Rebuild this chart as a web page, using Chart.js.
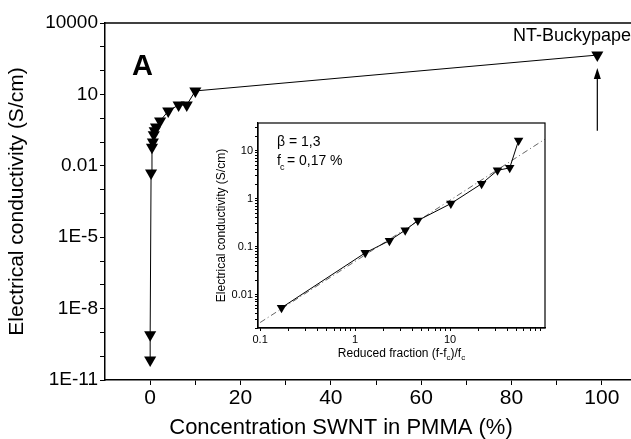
<!DOCTYPE html>
<html>
<head>
<meta charset="utf-8">
<script src="https://cdn.jsdelivr.net/npm/chart.js@4"></script>
<style>
  html, body { margin: 0; padding: 0; background: #fff; overflow: hidden; }
  #wrap { position: relative; width: 631px; height: 439px; overflow: hidden; }
  #main { position: absolute; left: 0; top: 0; }
  #inset { position: absolute; left: 205px; top: 110px; }
</style>
</head>
<body>
<div id="wrap">
  <canvas id="main" width="660" height="439"></canvas>
  <canvas id="inset" width="355" height="255"></canvas>
</div>
<script>
// main panel: conductivity vs SWNT concentration
const concentration = [0, 0, 0.2, 0.4, 0.6, 0.8, 1.0, 1.3, 2.2, 4.0, 6.3, 8.1, 10, 99];
const conductivity = [7e-11, 8e-10, 5e-3, 0.06, 0.1, 0.2, 0.3, 0.43, 0.76, 2.0, 3.6, 3.6, 14, 450];
const xTickValues = [0, 10, 20, 30, 40, 50, 60, 70, 80, 90, 100, 110];
const xTickLabels = ['0', '', '20', '', '40', '', '60', '', '80', '', '100', ''];
const yTickLabels = ['1E-11', '', '', '1E-8', '', '', '1E-5', '', '', '0.01', '', '', '10', '', '', '10000'];
const arrowY = [0.3, 130];

// inset: log-log percolation fit
const reducedFraction = [0.168, 1.28, 2.3, 3.37, 4.58, 10.2, 21.5, 31.6, 42.5, 52.7];
const insetConductivity = [0.0053, 0.074, 0.133, 0.22, 0.35, 0.79, 2.05, 3.9, 4.4, 16.4];
const fitX = [0.1, 100];
const fitY = [0.0026, 17.5];
const insetXLabels = ['0.1', '1', '10', '100'];
const insetYLabels = ['0.01', '0.1', '1', '10'];

const FONT = "'Liberation Sans', Arial, Helvetica, sans-serif";
Chart.defaults.font.family = FONT;
Chart.defaults.color = '#000';

function decades(from, to) {
  const out = [];
  for (let k = from; k <= to; k++) out.push(Math.pow(10, k));
  return out;
}
function withMinor(from, to) {
  const out = [];
  for (let k = from; k <= to; k++) {
    for (let m = 1; m <= 9; m++) out.push(m * Math.pow(10, k));
  }
  return out;
}

const mainExtras = {
  id: 'mainExtras',
  afterDatasetsDraw(chart) {
    const { ctx, chartArea, scales } = chart;
    ctx.save();
    ctx.strokeStyle = '#000';
    ctx.lineWidth = 1.5;
    ctx.beginPath();
    ctx.moveTo(chartArea.left, chartArea.top);
    ctx.lineTo(chartArea.right, chartArea.top);
    ctx.stroke();

    // arrow pointing at the buckypaper point
    const ax = scales.x.getPixelForValue(concentration[concentration.length - 1]);
    const y0 = scales.y.getPixelForValue(arrowY[0]);
    const y1 = scales.y.getPixelForValue(arrowY[1]);
    ctx.lineWidth = 1.2;
    ctx.beginPath();
    ctx.moveTo(ax, y0);
    ctx.lineTo(ax, y1 + 8);
    ctx.stroke();
    ctx.fillStyle = '#000';
    ctx.beginPath();
    ctx.moveTo(ax, y1);
    ctx.lineTo(ax - 3.5, y1 + 11);
    ctx.lineTo(ax + 3.5, y1 + 11);
    ctx.closePath();
    ctx.fill();

    ctx.font = 'bold 29px ' + FONT;
    ctx.textBaseline = 'middle';
    ctx.textAlign = 'left';
    ctx.fillText('A', 132, 67);
    ctx.font = '18px ' + FONT;
    ctx.fillText('NT-Buckypaper', 513, 36);

    ctx.font = '22px ' + FONT;
    ctx.textAlign = 'center';
    ctx.fillText('Concentration SWNT in PMMA (%)', 341, 428);
    ctx.restore();
  }
};

new Chart(document.getElementById('main'), {
  type: 'line',
  data: {
    datasets: [{
      data: concentration.map((x, i) => ({ x: x, y: conductivity[i] })),
      borderColor: '#000',
      borderWidth: 1,
      tension: 0,
      pointStyle: 'triangle',
      rotation: 180,
      pointRadius: 7,
      pointBackgroundColor: '#000',
      pointBorderColor: '#000',
      pointBorderWidth: 0
    }]
  },
  options: {
    responsive: false,
    animation: false,
    devicePixelRatio: 1,
    layout: { padding: { top: 23, right: 13, left: 0, bottom: 0 } },
    plugins: { legend: { display: false }, tooltip: { enabled: false } },
    scales: {
      x: {
        type: 'linear',
        min: -10,
        max: 110,
        afterFit(s) { s.height = 59; },
        afterBuildTicks(s) { s.ticks = xTickValues.map(v => ({ value: v })); },
        ticks: {
          autoSkip: false, maxRotation: 0, padding: 1,
          font: { size: 21 },
          callback: (v) => xTickLabels[xTickValues.indexOf(v)] ?? ''
        },
        grid: { drawOnChartArea: false, tickLength: 5, color: '#000' },
        border: { color: '#000', width: 1.5 }
      },
      y: {
        type: 'logarithmic',
        min: 1e-11,
        max: 1e4,
        afterFit(s) { s.width = 105; },
        afterBuildTicks(s) { s.ticks = decades(-11, 4).map(v => ({ value: v })); },
        ticks: {
          autoSkip: false, padding: 2,
          font: { size: 19 },
          callback: (v) => yTickLabels[Math.round(Math.log10(v)) + 11] ?? ''
        },
        grid: { drawOnChartArea: false, tickLength: 5, color: '#000' },
        border: { color: '#000', width: 1.5 },
        title: { display: true, text: 'Electrical conductivity (S/cm)', font: { size: 21 }, padding: { top: 5, bottom: 0 } }
      }
    }
  },
  plugins: [mainExtras]
});

const insetExtras = {
  id: 'insetExtras',
  beforeDraw(chart) {
    const { ctx } = chart;
    ctx.save();
    ctx.fillStyle = '#fff';
    ctx.fillRect(0, 0, chart.width, chart.height);
    ctx.restore();
  },
  afterDraw(chart) {
    const { ctx, chartArea } = chart;
    ctx.save();
    ctx.strokeStyle = '#000';
    ctx.lineWidth = 1.2;
    ctx.strokeRect(chartArea.left, chartArea.top, chartArea.right - chartArea.left, chartArea.bottom - chartArea.top);

    ctx.fillStyle = '#000';
    ctx.textBaseline = 'alphabetic';
    ctx.textAlign = 'left';
    const tx = chartArea.left + 19;
    ctx.font = '14px ' + FONT;
    ctx.fillText('\u03b2 = 1,3', tx, chartArea.top + 23);
    ctx.fillText('f', tx, chartArea.top + 42);
    ctx.font = '9px ' + FONT;
    ctx.fillText('c', tx + 3, chartArea.top + 47);
    ctx.font = '14px ' + FONT;
    ctx.fillText(' = 0,17 %', tx + 6, chartArea.top + 42);

    // x title with subscripts
    const parts = [['Reduced fraction (f-f', 12], ['c', 8], [')/f', 12], ['c', 8]];
    let w = 0;
    parts.forEach(p => { ctx.font = p[1] + 'px ' + FONT; w += ctx.measureText(p[0]).width; });
    let x = (chartArea.left + chartArea.right) / 2 - w / 2;
    const by = chart.height - 8;
    parts.forEach(p => {
      ctx.font = p[1] + 'px ' + FONT;
      ctx.fillText(p[0], x, p[1] === 8 ? by + 3 : by);
      x += ctx.measureText(p[0]).width;
    });
    ctx.restore();
  }
};

new Chart(document.getElementById('inset'), {
  type: 'line',
  data: {
    datasets: [{
      data: reducedFraction.map((x, i) => ({ x: x, y: insetConductivity[i] })),
      borderColor: '#000',
      borderWidth: 1,
      tension: 0,
      pointStyle: 'triangle',
      rotation: 180,
      pointRadius: 5.5,
      pointBackgroundColor: '#000',
      pointBorderColor: '#000',
      pointBorderWidth: 0
    }, {
      data: fitX.map((x, i) => ({ x: x, y: fitY[i] })),
      borderColor: '#666',
      borderWidth: 1,
      borderDash: [6, 3, 1, 3],
      pointRadius: 0,
      tension: 0
    }]
  },
  options: {
    responsive: false,
    animation: false,
    devicePixelRatio: 1,
    layout: { padding: { top: 13, right: 15, left: 0, bottom: 0 } },
    plugins: { legend: { display: false }, tooltip: { enabled: false } },
    scales: {
      x: {
        type: 'logarithmic',
        min: 0.095,
        max: 100,
        afterFit(s) { s.height = 37; },
        afterBuildTicks(s) { s.ticks = withMinor(-2, 1).filter(v => v >= 0.095 && v <= 100.01).map(v => ({ value: v })); },
        ticks: {
          autoSkip: false, maxRotation: 0, padding: 2,
          font: { size: 11 },
          callback: (v) => {
            const k = Math.log10(v);
            return Math.abs(k - Math.round(k)) < 1e-6 ? (insetXLabels[Math.round(k) + 1] ?? '') : '';
          }
        },
        grid: { drawOnChartArea: false, tickLength: 3, color: '#000' },
        border: { color: '#000', width: 1.2 }
      },
      y: {
        type: 'logarithmic',
        min: 0.002,
        max: 38,
        afterFit(s) { s.width = 53; },
        afterBuildTicks(s) { s.ticks = withMinor(-3, 1).filter(v => v >= 0.002 && v <= 38).map(v => ({ value: v })); },
        ticks: {
          autoSkip: false, padding: 2,
          font: { size: 11 },
          callback: (v) => {
            const k = Math.log10(v);
            return Math.abs(k - Math.round(k)) < 1e-6 ? (insetYLabels[Math.round(k) + 2] ?? '') : '';
          }
        },
        grid: { drawOnChartArea: false, tickLength: 3, color: '#000' },
        border: { color: '#000', width: 1.2 },
        title: { display: true, text: 'Electrical conductivity (S/cm)', font: { size: 12 }, padding: { top: 9, bottom: 0 } }
      }
    }
  },
  plugins: [insetExtras]
});
</script>
</body>
</html>
